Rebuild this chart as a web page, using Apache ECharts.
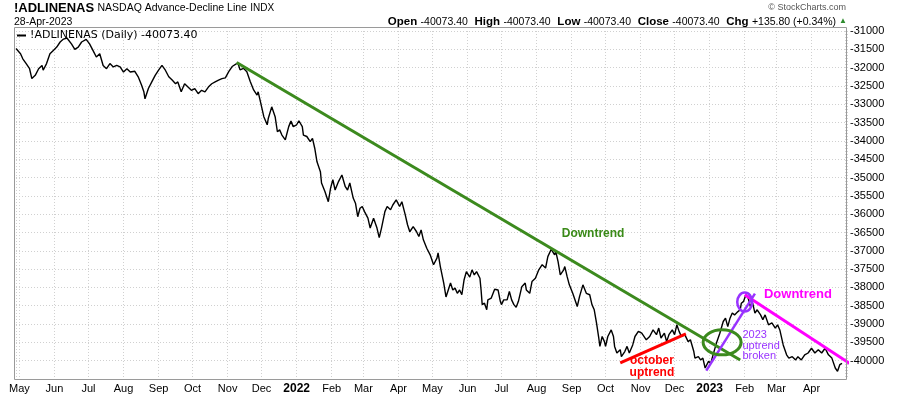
<!DOCTYPE html>
<html>
<head>
<meta charset="utf-8">
<script src="https://cdn.jsdelivr.net/npm/echarts@6/dist/echarts.min.js"></script>
<style>
html,body{margin:0;padding:0;background:#fff;}
#c{width:900px;height:396px;}
</style>
</head>
<body>
<div id="c"></div>
<script>
// ---------- data ----------
const dates = [
'2021-04-28','2021-05-02','2021-05-04','2021-05-07','2021-05-10','2021-05-12','2021-05-15','2021-05-18','2021-05-21','2021-05-22',
'2021-05-25','2021-05-28','2021-05-31','2021-06-03','2021-06-06','2021-06-09','2021-06-12','2021-06-16','2021-06-19','2021-06-22',
'2021-06-25','2021-06-29','2021-07-02','2021-07-05','2021-07-08','2021-07-11','2021-07-14','2021-07-17','2021-07-20','2021-07-23',
'2021-07-26','2021-07-29','2021-08-01','2021-08-04','2021-08-07','2021-08-11','2021-08-14','2021-08-17','2021-08-19','2021-08-20',
'2021-08-23','2021-08-26','2021-08-29','2021-09-01','2021-09-04','2021-09-07','2021-09-10','2021-09-13','2021-09-16','2021-09-18',
'2021-09-21','2021-09-24','2021-09-27','2021-09-30','2021-10-03','2021-10-06','2021-10-09','2021-10-12','2021-10-15','2021-10-18',
'2021-10-21','2021-10-24','2021-10-27','2021-10-30','2021-11-02','2021-11-05','2021-11-06','2021-11-10','2021-11-12','2021-11-15',
'2021-11-18','2021-11-21','2021-11-24','2021-11-27','2021-11-28','2021-11-30','2021-12-03','2021-12-06','2021-12-07','2021-12-10',
'2021-12-13','2021-12-15','2021-12-17','2021-12-19','2021-12-22','2021-12-25','2021-12-27','2021-12-29','2022-01-01','2022-01-03',
'2022-01-06','2022-01-07','2022-01-10','2022-01-13','2022-01-15','2022-01-17','2022-01-19','2022-01-22','2022-01-23','2022-01-26',
'2022-01-29','2022-01-31','2022-02-02','2022-02-04','2022-02-07','2022-02-10','2022-02-13','2022-02-15','2022-02-17','2022-02-20',
'2022-02-22','2022-02-24','2022-02-26','2022-02-28','2022-03-02','2022-03-05','2022-03-07','2022-03-10','2022-03-13','2022-03-15',
'2022-03-17','2022-03-20','2022-03-22','2022-03-25','2022-03-27','2022-03-30','2022-04-02','2022-04-04','2022-04-07','2022-04-09',
'2022-04-11','2022-04-14','2022-04-17','2022-04-19','2022-04-21','2022-04-23','2022-04-26','2022-04-29','2022-05-02','2022-05-05',
'2022-05-06','2022-05-08','2022-05-11','2022-05-13','2022-05-15','2022-05-17','2022-05-19','2022-05-21','2022-05-23','2022-05-25',
'2022-05-27','2022-05-29','2022-05-31','2022-06-03','2022-06-05','2022-06-07','2022-06-09','2022-06-12','2022-06-13','2022-06-14',
'2022-06-16','2022-06-18','2022-06-19','2022-06-22','2022-06-25','2022-06-28','2022-06-30','2022-07-01','2022-07-03','2022-07-06',
'2022-07-08','2022-07-10','2022-07-12','2022-07-14','2022-07-16','2022-07-19','2022-07-22','2022-07-23','2022-07-26','2022-07-28',
'2022-07-31','2022-08-03','2022-08-06','2022-08-09','2022-08-11','2022-08-14','2022-08-17','2022-08-18','2022-08-20','2022-08-22',
'2022-08-25','2022-08-26','2022-08-28','2022-08-30','2022-09-02','2022-09-06','2022-09-08','2022-09-11','2022-09-14','2022-09-17',
'2022-09-19','2022-09-21','2022-09-23','2022-09-25','2022-09-26','2022-09-28','2022-09-30','2022-10-01','2022-10-03','2022-10-06',
'2022-10-08','2022-10-09','2022-10-11','2022-10-14','2022-10-15','2022-10-18','2022-10-20','2022-10-22','2022-10-25','2022-10-27',
'2022-10-30','2022-11-02','2022-11-06','2022-11-09','2022-11-12','2022-11-15','2022-11-17','2022-11-19','2022-11-22','2022-11-24',
'2022-11-26','2022-11-29','2022-12-01','2022-12-03','2022-12-05','2022-12-07','2022-12-10','2022-12-13','2022-12-15','2022-12-18',
'2022-12-19','2022-12-22','2022-12-24','2022-12-26','2022-12-28','2022-12-31','2023-01-02','2023-01-04','2023-01-07','2023-01-10',
'2023-01-13','2023-01-15','2023-01-17','2023-01-19','2023-01-21','2023-01-23','2023-01-26','2023-01-28','2023-01-29','2023-01-31',
'2023-02-02','2023-02-04','2023-02-06','2023-02-08','2023-02-10','2023-02-12','2023-02-15','2023-02-17','2023-02-19','2023-02-22',
'2023-02-25','2023-02-28','2023-03-02','2023-03-04','2023-03-07','2023-03-10','2023-03-12','2023-03-15','2023-03-18','2023-03-20',
'2023-03-23','2023-03-26','2023-03-29','2023-04-01','2023-04-04','2023-04-07','2023-04-10','2023-04-13','2023-04-16','2023-04-19',
'2023-04-22','2023-04-24','2023-04-26','2023-04-28'
];
const values = [
-31480,-31620,-31760,-31890,-32030,-32300,-32210,-32030,-31940,-32070,
-31890,-31620,-31530,-31440,-31300,-31220,-31190,-31350,-31500,-31440,
-31300,-31230,-31350,-31530,-31710,-31620,-31940,-32030,-31890,-31980,
-31940,-31980,-32120,-32030,-32120,-32100,-32250,-32480,-32660,-32850,
-32570,-32390,-32210,-32070,-31940,-32070,-32250,-32340,-32440,-32390,
-32660,-32440,-32530,-32620,-32570,-32710,-32620,-32660,-32530,-32440,
-32390,-32340,-32300,-32280,-32110,-31970,-31950,-31870,-32060,-32020,
-32110,-32380,-32610,-32750,-32660,-32930,-33340,-33560,-33380,-33070,
-33340,-33750,-33700,-33840,-33970,-33610,-33460,-33610,-33560,-33450,
-33610,-33840,-33880,-34020,-33930,-34200,-34570,-34840,-35150,-35380,
-35660,-35290,-35060,-35340,-35110,-34930,-35250,-35340,-35150,-35560,
-35700,-36070,-35840,-35790,-35930,-36110,-36380,-36110,-36380,-36640,
-36380,-35930,-35790,-35880,-35750,-35610,-35790,-35660,-36020,-36290,
-36480,-36340,-36480,-36610,-36430,-36700,-36930,-37110,-37380,-37200,
-37060,-37430,-37880,-38260,-38070,-37880,-38070,-38020,-38160,-38070,
-38200,-37790,-37570,-37720,-37520,-37660,-37570,-37750,-38070,-38470,
-38430,-38610,-38340,-38290,-38050,-38070,-38380,-38470,-38340,-38340,
-38110,-38340,-38470,-38540,-38380,-37980,-37880,-38070,-38160,-37840,
-37750,-37520,-37380,-37470,-37160,-36960,-37110,-37020,-37290,-37660,
-37520,-37430,-37700,-37930,-38160,-38520,-38250,-37930,-38160,-38200,
-38470,-38610,-38970,-39380,-39610,-39340,-39480,-39610,-39340,-39160,
-39340,-39610,-39790,-39700,-39890,-39750,-39610,-39790,-39570,-39340,
-39200,-39250,-39430,-39340,-39160,-39290,-39110,-39380,-39250,-39480,
-39290,-39160,-39290,-39020,-39200,-39340,-39290,-39480,-39430,-39750,
-39930,-39890,-39980,-39930,-40200,-40020,-40070,-39840,-39520,-39250,
-38930,-38840,-39070,-38840,-38700,-38750,-38660,-38610,-38430,-38380,
-38200,-38290,-38520,-38430,-38700,-38610,-38750,-38880,-38750,-39020,
-38970,-39110,-39020,-39160,-39570,-39840,-39930,-39890,-39980,-39890,
-39980,-39840,-39790,-39660,-39790,-39700,-39790,-39660,-39840,-39930,
-40200,-40290,-40110,-40073.40
];
const seriesName = '!ADLINENAS (Daily)';
const titleSymbol = '!ADLINENAS';
const titleName = 'NASDAQ Advance-Decline Line';
const titleExchange = 'INDX';
const asOfDate = '28-Apr-2023';
const quote = { open: '-40073.40', high: '-40073.40', low: '-40073.40', close: '-40073.40', chg: '+135.80 (+0.34%)' };
const yMin = -40500, yMax = -31000, yStep = 500;
const xStart = '2021-04-28', xEnd = '2023-05-02';
const monthNames = ['Jan','Feb','Mar','Apr','May','Jun','Jul','Aug','Sep','Oct','Nov','Dec'];

// annotation trend lines (data coordinates)
const greenTrend = [['2021-11-09', -31860], ['2023-01-28', -39980]];
const redTrend = [['2022-10-14', -40060], ['2022-12-11', -39270]];
const purpleTrend = [['2022-12-29', -40270], ['2023-02-10', -38170]];
const magentaTrend = [['2023-02-01', -38200], ['2023-05-08', -40140]];
const circles = [
  { at: ['2023-01-12', -39500], rx: 19, ry: 12.5, color: '#3c8a1e', w: 3 },
  { at: ['2023-02-01', -38400], rx: 7.5, ry: 9.5, color: '#9933ff', w: 2.5 }
];
const notes = [
  { text: 'Downtrend', at: ['2022-09-20', -36540], color: '#3a8a18', size: 12, bold: true, align: 'center' },
  { text: 'Downtrend', at: ['2023-03-20', -38200], color: '#ff00ff', size: 13, bold: true, align: 'center' },
  { text: 'october', at: ['2022-11-11', -40000], color: '#ff0000', size: 12, bold: true, align: 'center' },
  { text: 'uptrend', at: ['2022-11-11', -40330], color: '#ff0000', size: 12, bold: true, align: 'center' },
  { text: '2023', at: ['2023-01-30', -39290], color: '#9933ff', size: 11, bold: false, align: 'left' },
  { text: 'uptrend', at: ['2023-01-30', -39590], color: '#9933ff', size: 11, bold: false, align: 'left' },
  { text: 'broken', at: ['2023-01-30', -39860], color: '#9933ff', size: 11, bold: false, align: 'left' }
];

// ---------- chart ----------
function toTs(s) { const p = s.split('-').map(Number); return new Date(p[0], p[1] - 1, p[2]).getTime(); }
const pt = a => [toTs(a[0]), a[1]];
const lineData = dates.map((d, i) => [toTs(d), values[i]]);
const lastTs = toTs(dates[dates.length - 1]);
const FONT = '"Liberation Sans", Arial, sans-serif';

const chart = echarts.init(document.getElementById('c'), null, { renderer: 'canvas' });

function trendSeries(name, pts, color, width) {
  return { name: name, type: 'line', data: pts.map(pt), symbol: 'none', clip: false, silent: true,
           lineStyle: { color: color, width: width }, z: 5, animation: false };
}

const option = {
  backgroundColor: '#fff',
  animation: false,
  grid: { left: 16, right: 53, top: 31, bottom: 17, containLabel: false },
  legend: {
    data: [seriesName], left: 17, top: 30, icon: 'rect', itemWidth: 9, itemHeight: 2, itemGap: 4,
    padding: 0, selectedMode: false,
    formatter: n => n + ' ' + values[values.length - 1].toFixed(2),
    textStyle: { fontFamily: '"DejaVu Sans", Verdana, sans-serif', fontSize: 11, color: '#000', padding: [0,0,0,-1] }
  },
  xAxis: {
    type: 'time', min: toTs(xStart), max: toTs(xEnd) + 9 * 3600e3,
    splitNumber: 24, minInterval: 28 * 864e5, maxInterval: 31 * 864e5,
    axisLine: { show: false }, axisTick: { show: false },
    splitLine: { show: true, lineStyle: { color: '#d0d0d0', type: [1, 2], width: 1 } },
    axisLabel: {
      interval: 0, hideOverlap: false, showMinLabel: false, showMaxLabel: false,
      margin: 4, fontSize: 11, color: '#000', fontFamily: FONT,
      formatter: function (v) {
        const d = new Date(v);
        if (d.getDate() !== 1 || v > lastTs) return '';
        if (d.getMonth() === 0) return '{b|' + d.getFullYear() + '}';
        return monthNames[d.getMonth()];
      },
      rich: { b: { fontWeight: 'bold', fontSize: 12, fontFamily: FONT, color: '#000' } }
    }
  },
  yAxis: {
    type: 'value', position: 'right', min: yMin, max: yMax, interval: yStep, scale: true,
    axisLine: { show: false }, axisTick: { show: false },
    splitLine: { show: true, lineStyle: { color: '#d0d0d0', type: [1, 2], width: 1 } },
    axisLabel: { margin: 3, fontSize: 11, color: '#000', fontFamily: FONT,
      formatter: v => (v === yMin ? '' : String(v)) }
  },
  series: [
    { name: seriesName, type: 'line', data: lineData, showSymbol: false, symbol: 'none',
      lineStyle: { color: '#000', width: 1.4 }, itemStyle: { color: '#000' }, z: 3 },
    trendSeries('g', greenTrend, '#3c8a1e', 3),
    trendSeries('r', redTrend, '#ff0000', 3),
    trendSeries('p', purpleTrend, '#9933ff', 2.5),
    trendSeries('m', magentaTrend, '#ff00ff', 3)
  ]
};
chart.setOption(option);

// header + frame + annotations
const gfx = [
  { type: 'rect', shape: { x: 14.5, y: 27.5, width: 832, height: 352 }, style: { fill: 'none', stroke: '#9a9a9a', lineWidth: 1 }, z: 10, silent: true },
  { type: 'text', left: 14, top: 2, style: { text: '{a|' + titleSymbol + '} {b|' + titleName + '} {c|' + titleExchange + '}',
      rich: { a: { fontFamily: FONT, fontWeight: 'bold', fontSize: 13, fill: '#000' },
              b: { fontFamily: FONT, fontSize: 10.5, fill: '#000' },
              c: { fontFamily: FONT, fontSize: 10, fill: '#000' } } } },
  { type: 'text', left: 14, top: 17, style: { text: asOfDate, font: '10.5px ' + FONT, fill: '#000' } },
  { type: 'text', right: 54, top: 3, style: { text: '\u00a9 StockCharts.com', font: '9px ' + FONT, fill: '#555' } },
  { type: 'text', right: 64, top: 16, style: {
      text: '{l|Open} {v|' + quote.open + '}  {l|High} {v|' + quote.high + '}  {l|Low} {v|' + quote.low + '}  {l|Close} {v|' + quote.close + '}  {l|Chg} {v|' + quote.chg + '}',
      rich: { l: { fontFamily: FONT, fontWeight: 'bold', fontSize: 11.5, fill: '#000' },
              v: { fontFamily: FONT, fontSize: 10.5, fill: '#000' } } } },
  { type: 'text', right: 53, top: 17, style: { text: '\u25b2', font: '8px ' + FONT, fill: '#2e8b2e' } }
];
circles.forEach(c => {
  const p = chart.convertToPixel({ xAxisIndex: 0, yAxisIndex: 0 }, pt(c.at));
  gfx.push({ type: 'ellipse', shape: { cx: p[0], cy: p[1], rx: c.rx, ry: c.ry },
             style: { fill: 'none', stroke: c.color, lineWidth: c.w }, z: 20, silent: true });
});
notes.forEach(n => {
  const p = chart.convertToPixel({ xAxisIndex: 0, yAxisIndex: 0 }, pt(n.at));
  gfx.push({ type: 'text', x: p[0], y: p[1], z: 21, silent: true,
             style: { text: n.text, fill: n.color, align: n.align, verticalAlign: 'middle',
                      font: (n.bold ? 'bold ' : '') + n.size + 'px ' + FONT } });
});
chart.setOption({ graphic: gfx });
</script>
</body>
</html>
